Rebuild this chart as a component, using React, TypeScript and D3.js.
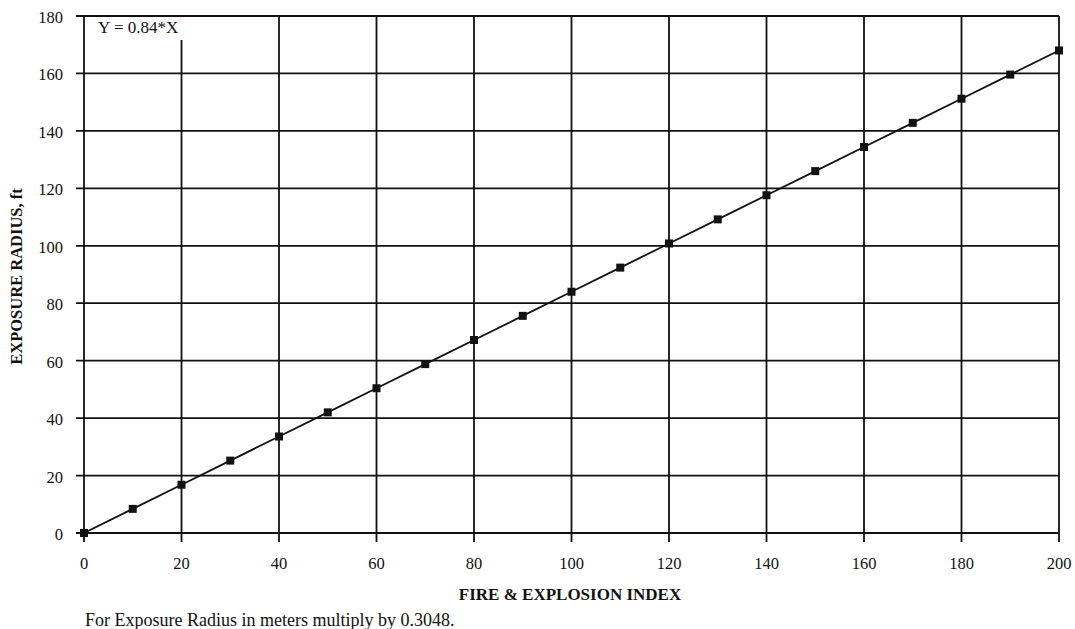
import React from "react";
import * as d3 from "d3";

// Fire & Explosion Index vs. exposure radius (ft), Y = 0.84*X
const indexValues = [0, 10, 20, 30, 40, 50, 60, 70, 80, 90, 100, 110, 120, 130, 140, 150, 160, 170, 180, 190, 200];
const radiusValues = [0, 8.4, 16.8, 25.2, 33.6, 42, 50.4, 58.8, 67.2, 75.6, 84, 92.4, 100.8, 109.2, 117.6, 126, 134.4, 142.8, 151.2, 159.6, 168];
const xTicks = [0, 20, 40, 60, 80, 100, 120, 140, 160, 180, 200];
const yTicks = [0, 20, 40, 60, 80, 100, 120, 140, 160, 180];

const W = 1075;
const H = 629;
const left = 84;
const right = 1059;
const top = 16;
const bottom = 533;
const font = "'Liberation Serif', 'Times New Roman', serif";
const ink = "#111";

export default function App() {
  const x = d3.scaleLinear().domain([0, 200]).range([left, right]);
  const y = d3.scaleLinear().domain([0, 180]).range([bottom, top]);
  const line = d3
    .line<number>()
    .x((_, i) => x(indexValues[i]))
    .y((d) => y(d));

  return (
    <svg
      width={W}
      height={H}
      style={{ position: "absolute", left: 0, top: 0, background: "#fff" }}
      fontFamily={font}
    >
      {/* horizontal grid lines with left tick stubs */}
      {yTicks.map((t) => (
        <line key={"h" + t} x1={left - 8} x2={right} y1={y(t)} y2={y(t)} stroke={ink} strokeWidth={1.8} />
      ))}
      {/* vertical grid lines with bottom tick stubs; the x=20 line stops below the equation label */}
      {xTicks.map((t) => (
        <line
          key={"v" + t}
          x1={x(t)}
          x2={x(t)}
          y1={t === 20 ? 40 : top}
          y2={bottom + 9}
          stroke={ink}
          strokeWidth={1.8}
        />
      ))}
      {yTicks.map((t) => (
        <text key={"yl" + t} x={63} y={y(t) + 7} textAnchor="end" fontSize={16.5} fill={ink}>
          {t}
        </text>
      ))}
      {xTicks.map((t) => (
        <text key={"xl" + t} x={x(t)} y={569} textAnchor="middle" fontSize={16.5} fill={ink}>
          {t}
        </text>
      ))}
      <path d={line(radiusValues) || ""} fill="none" stroke={ink} strokeWidth={1.8} />
      {radiusValues.map((v, i) => (
        <rect key={"m" + i} x={x(indexValues[i]) - 4} y={y(v) - 4} width={8} height={8} fill={ink} />
      ))}
      <text x={98} y={33} fontSize={17} fill={ink}>
        Y = 0.84*X
      </text>
      <text
        transform={`translate(22, ${(top + bottom) / 2 + 2}) rotate(-90)`}
        textAnchor="middle"
        fontSize={16.5}
        fontWeight="bold"
        fill={ink}
      >
        EXPOSURE RADIUS, ft
      </text>
      <text x={570} y={600} textAnchor="middle" fontSize={17} fontWeight="bold" fill={ink}>
        FIRE &amp; EXPLOSION INDEX
      </text>
      <text x={85} y={626} fontSize={18} fill={ink}>
        For Exposure Radius in meters multiply by 0.3048.
      </text>
    </svg>
  );
}
